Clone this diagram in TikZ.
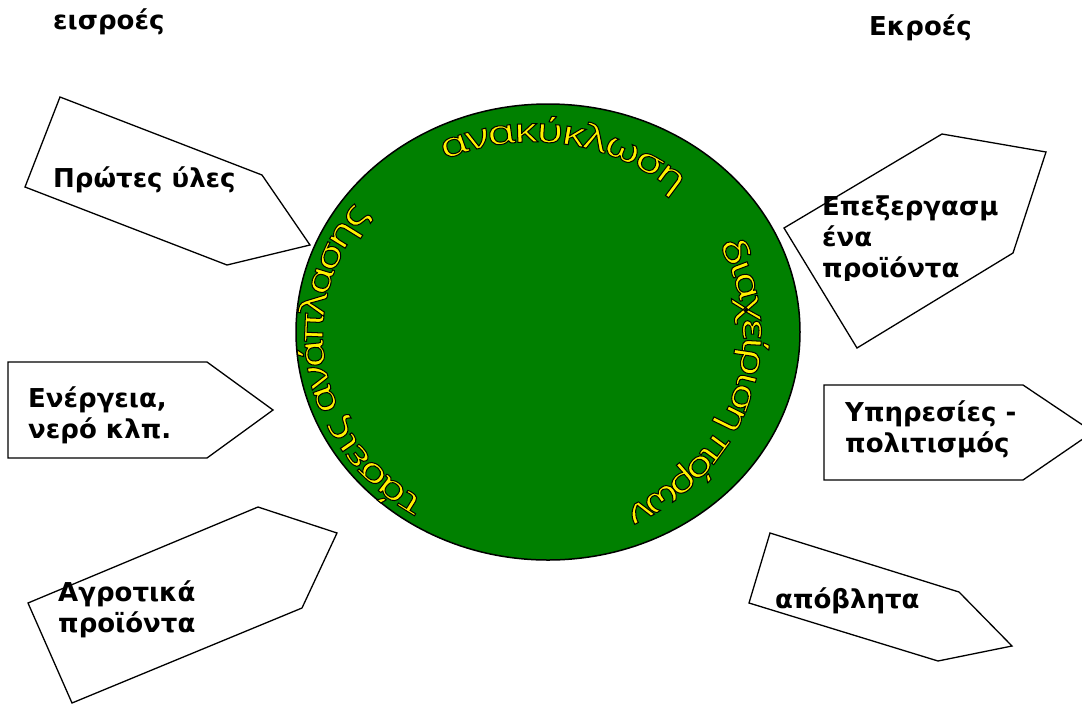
\documentclass[tikz,border=0pt]{standalone}
\usepackage{fontspec}
\setmainfont{DejaVu Sans}
\newfontfamily\ringfont[FakeBold=3,FakeStretch=1.35]{Noto Sans}
\usepackage{tikz}
\usetikzlibrary{decorations.text}
\definecolor{leaf}{RGB}{0,128,0}
\newcommand\ringchar[1]{\pgfsetstrokecolor{black}#1}
\tikzset{
  lbl/.style={anchor=base west, align=left, font=\bfseries\fontsize{26}{31}\selectfont},
  ringtext/.style={decorate, decoration={text effects along path, text={#1},
    text effects/.cd, text along path, fit text to path,
    characters={text=yellow, font=\ringfont\fontsize{34}{34}\selectfont},
    character command=\ringchar}}
}

\begin{document}
\begin{tikzpicture}[x=1pt,y=1pt]
\tikzstyle{every node}+=[inner sep=0pt]
\useasboundingbox (0,0) rectangle (1082,-705);
\draw [black, line width=1.5, fill=leaf] (548,-332) ellipse [x radius=252, y radius=228];
\path [ringtext={τάσεις ανάπλασης}] (533,-335) ++(-121:210 and 193) arc [start angle=-121, end angle=-219, x radius=210, y radius=193];
\path [ringtext={ανακύκλωση}] (533,-335) ++(115:210 and 193) arc [start angle=115, end angle=47, x radius=210, y radius=193];
\path [ringtext={διαχείριση πόρων}] (533,-335) ++(28:210 and 193) arc [start angle=28, end angle=-64, x radius=210, y radius=193];
\draw [black, line width=1.3] (60,-97) -- (262,-175) -- (310,-245) -- (227,-265) -- (25,-187) -- cycle;
\draw [black, line width=1.3] (8,-362) -- (207,-362) -- (273,-410) -- (207,-458) -- (8,-458) -- cycle;
\draw [black, line width=1.3] (28,-603) -- (258,-507) -- (337,-533) -- (302,-608) -- (72,-703) -- cycle;
\draw [black, line width=1.3] (942,-134) -- (1046,-152) -- (1013,-253) -- (857,-348) -- (784,-228) -- cycle;
\draw [black, line width=1.3] (824,-385) -- (1023,-385) -- (1093,-432) -- (1023,-480) -- (824,-480) -- cycle;
\draw [black, line width=1.3] (770,-533) -- (959,-592) -- (1012,-646) -- (938,-661) -- (749,-603) -- cycle;
\draw (53,-29) node [lbl] (inputs) {εισροές};
\draw (869,-35) node [lbl] (outputs) {Εκροές};
\draw (53,-187) node [lbl] (raw) {Πρώτες ύλες};
\draw (28,-438) node [lbl] (energy) {Ενέργεια,\\νερό κλπ.};
\draw (58,-632) node [lbl] (farm) {Αγροτικά\\προϊόντα};
\begin{scope}
\clip (780,-150) rectangle (1040,-280);
\draw (822,-277) node [lbl] (goods) {Επεξεργασμ\\ένα\\προϊόντα};
\end{scope}
\draw (845,-452) node [lbl] (services) {Υπηρεσίες -\\πολιτισμός};
\draw (775,-608) node [lbl] (waste) {απόβλητα};
\end{tikzpicture}
\end{document}
